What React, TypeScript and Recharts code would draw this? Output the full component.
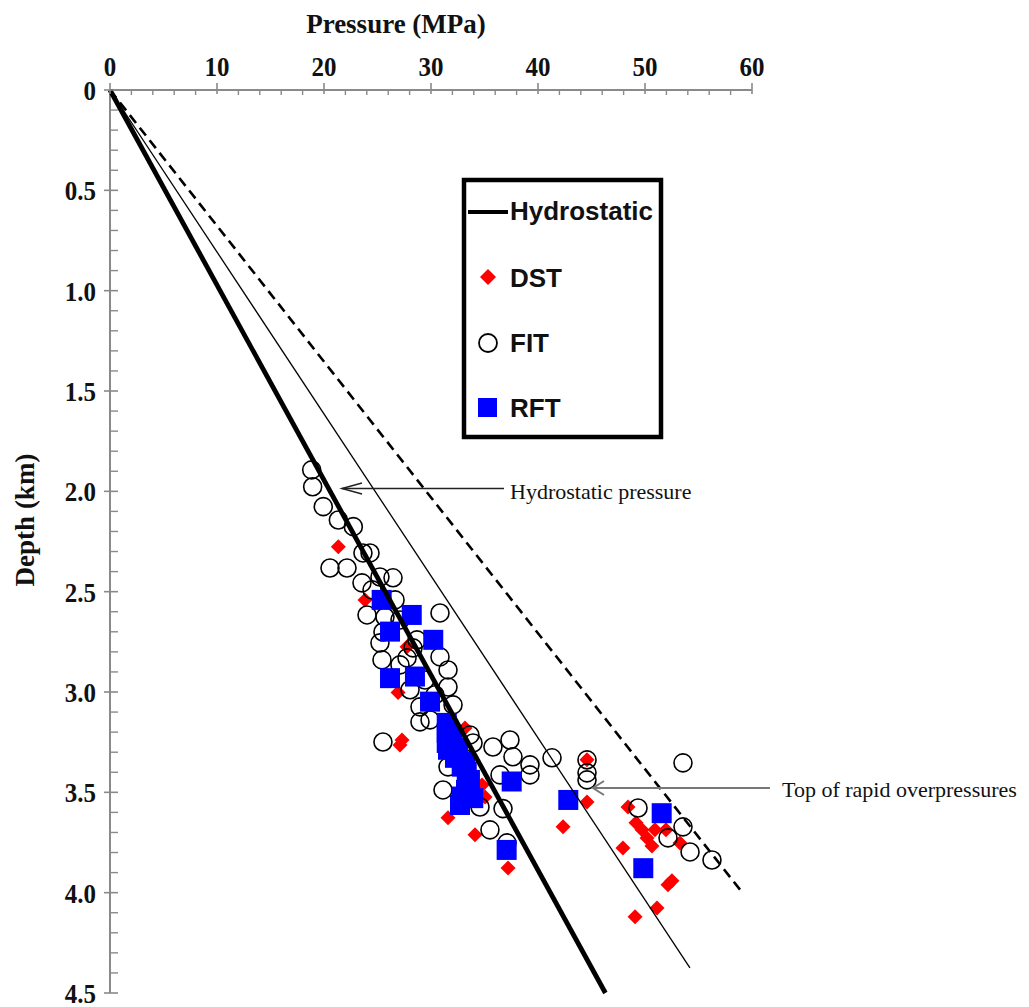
import React from 'react';
import { ScatterChart, Scatter, XAxis, YAxis } from 'recharts';

// ---- Data (pressure MPa, depth km) ----
const dstP = [21.34, 23.83, 27.76, 26.92, 27.10, 27.29, 33.18, 34.77, 35.05, 31.59, 34.11, 37.20, 44.58, 44.58, 42.34, 48.41, 49.16, 49.72, 50.19, 50.65, 50.93, 47.94, 51.96, 53.27, 52.15, 52.52, 51.12, 49.07];
const dstD = [2.276, 2.541, 2.775, 3.003, 3.264, 3.239, 3.179, 3.463, 3.523, 3.627, 3.712, 3.877, 3.338, 3.548, 3.672, 3.573, 3.652, 3.687, 3.727, 3.767, 3.687, 3.777, 3.687, 3.752, 3.961, 3.941, 4.076, 4.120];

const fitP = [18.85, 18.94, 19.93, 21.34, 22.74, 20.56, 22.15, 23.64, 24.30, 23.55, 25.23, 26.45, 24.49, 24.02, 25.70, 26.64, 30.84, 25.51, 25.23, 25.42, 27.76, 28.69, 28.32, 27.10, 30.84, 31.59, 31.59, 27.10, 28.04, 29.44, 30.37, 28.97, 28.97, 29.91, 32.06, 25.51, 33.64, 33.93, 35.79, 37.38, 37.66, 36.45, 39.25, 39.25, 41.31, 44.58, 44.58, 44.58, 31.12, 31.59, 32.99, 34.58, 36.73, 35.51, 37.10, 49.35, 53.55, 53.55, 52.15, 54.21, 56.26];
const fitD = [1.893, 1.977, 2.076, 2.143, 2.176, 2.382, 2.382, 2.307, 2.307, 2.456, 2.427, 2.431, 2.491, 2.616, 2.626, 2.541, 2.606, 2.701, 2.755, 2.840, 2.830, 2.740, 2.780, 2.641, 2.825, 2.890, 2.975, 2.865, 2.989, 2.940, 3.014, 3.074, 3.149, 3.139, 3.064, 3.249, 3.214, 3.254, 3.274, 3.239, 3.323, 3.413, 3.363, 3.413, 3.328, 3.338, 3.403, 3.438, 3.488, 3.373, 3.538, 3.573, 3.581, 3.687, 3.752, 3.578, 3.353, 3.672, 3.727, 3.797, 3.837];

const rftP = [25.39, 28.20, 26.17, 30.21, 26.17, 28.50, 29.91, 31.47, 31.47, 31.47, 31.59, 32.24, 32.87, 33.34, 32.87, 33.95, 32.71, 37.54, 42.83, 51.56, 49.84, 37.07, 31.96, 32.52, 33.18, 33.64, 33.27];
const rftD = [2.541, 2.616, 2.699, 2.740, 2.931, 2.923, 3.048, 3.154, 3.204, 3.254, 3.288, 3.328, 3.372, 3.397, 3.521, 3.529, 3.563, 3.446, 3.538, 3.604, 3.878, 3.787, 3.214, 3.279, 3.348, 3.438, 3.488];

// trend lines (start, end)
const hydroP = [0, 46.3];
const hydroD = [0, 4.5];
const thinP = [0, 54.2];
const thinD = [0, 4.375];
const dashP = [0, 59.1];
const dashD = [0, 4.0];

// ticks
const xMajor = [0, 10, 20, 30, 40, 50, 60];
const xLabels = ['0', '10', '20', '30', '40', '50', '60'];
const xMinor = [2, 4, 6, 8, 12, 14, 16, 18, 22, 24, 26, 28, 32, 34, 36, 38, 42, 44, 46, 48, 52, 54, 56, 58];
const yMajor = [0, 0.5, 1.0, 1.5, 2.0, 2.5, 3.0, 3.5, 4.0, 4.5];
const yLabels = ['0', '0.5', '1.0', '1.5', '2.0', '2.5', '3.0', '3.5', '4.0', '4.5'];
const yMinor = [0.1, 0.2, 0.3, 0.4, 0.6, 0.7, 0.8, 0.9, 1.1, 1.2, 1.3, 1.4, 1.6, 1.7, 1.8, 1.9, 2.1, 2.2, 2.3, 2.4, 2.6, 2.7, 2.8, 2.9, 3.1, 3.2, 3.3, 3.4, 3.6, 3.7, 3.8, 3.9, 4.1, 4.2, 4.3, 4.4];

const zip = (ps: number[], ds: number[]) => ps.map((p, i) => ({ p, d: ds[i] }));
const dstData = zip(dstP, dstD);
const fitData = zip(fitP, fitD);
const rftData = zip(rftP, rftD);
const hydroData = zip(hydroP, hydroD);
const thinData = zip(thinP, thinD);
const dashData = zip(dashP, dashD);

const xTicks = [...xMajor, ...xMinor].sort((a, b) => a - b);
const yTicks = [...yMajor, ...yMinor].sort((a, b) => a - b);

const SERIF = '"Liberation Serif", "Times New Roman", serif';
const SANS = '"Liberation Sans", Arial, sans-serif';
const AXIS = '#8a8a8a';

const XTick = (props: any) => {
  const { x, y, payload } = props;
  const idx = xMajor.indexOf(payload.value);
  if (idx >= 0) {
    return (
      <g>
        <line x1={x} x2={x} y1={y - 7} y2={y + 4} stroke={AXIS} strokeWidth={1.6} />
        <text transform={`translate(${x},${y - 14}) scale(1,1.12)`} x={0} y={0} textAnchor="middle" fontFamily={SERIF} fontWeight="bold" fontSize={25} fill="#111">
          {xLabels[idx]}
        </text>
      </g>
    );
  }
  return <line x1={x} x2={x} y1={y} y2={y + 5} stroke={AXIS} strokeWidth={1.4} />;
};

const YTick = (props: any) => {
  const { x, y, payload } = props;
  const idx = yMajor.findIndex((v) => Math.abs(v - payload.value) < 1e-6);
  if (idx >= 0) {
    return (
      <g>
        <line x1={x - 6} x2={x + 8} y1={y} y2={y} stroke={AXIS} strokeWidth={1.6} />
        <text transform={`translate(${x - 14},${y + 10}) scale(1,1.12)`} x={0} y={0} textAnchor="end" fontFamily={SERIF} fontWeight="bold" fontSize={25} fill="#111">
          {yLabels[idx]}
        </text>
      </g>
    );
  }
  return <line x1={x} x2={x + 8} y1={y} y2={y} stroke={AXIS} strokeWidth={1.4} />;
};

const Diamond = (props: any) => {
  const { cx, cy } = props;
  const s = 7.5;
  return <polygon points={`${cx},${cy - s} ${cx + s},${cy} ${cx},${cy + s} ${cx - s},${cy}`} fill="#ff0000" />;
};
const OpenCircle = (props: any) => {
  const { cx, cy } = props;
  return <circle cx={cx} cy={cy} r={9} fill="none" stroke="#000" strokeWidth={1.6} />;
};
const Square = (props: any) => {
  const { cx, cy } = props;
  return <rect x={cx - 10} y={cy - 10} width={20} height={20} fill="#0000ff" />;
};
const NoShape = () => <g />;

export default function App() {
  return (
    <div style={{ position: 'absolute', left: 0, top: 0, width: 1029, height: 1007, background: '#fff' }}>
      <ScatterChart width={1029} height={1007} margin={{ top: 30, right: 277, bottom: 14, left: 30 }}>
        <XAxis
          type="number"
          dataKey="p"
          orientation="top"
          domain={[0, 60]}
          ticks={xTicks}
          interval={0}
          height={60}
          tickSize={0}
          tickMargin={0}
          tickLine={false}
          axisLine={{ stroke: AXIS, strokeWidth: 2 }}
          tick={<XTick />}
        />
        <YAxis
          type="number"
          dataKey="d"
          domain={[0, 4.5]}
          reversed
          ticks={yTicks}
          interval={0}
          width={80}
          tickSize={0}
          tickMargin={0}
          tickLine={false}
          axisLine={{ stroke: AXIS, strokeWidth: 2 }}
          tick={<YTick />}
        />
        <Scatter data={dstData} shape={<Diamond />} isAnimationActive={false} />
        <Scatter data={fitData} shape={<OpenCircle />} isAnimationActive={false} />
        <Scatter data={rftData} shape={<Square />} isAnimationActive={false} />
        <Scatter data={thinData} shape={<NoShape />} line={{ stroke: '#000', strokeWidth: 1.3 }} isAnimationActive={false} />
        <Scatter data={dashData} shape={<NoShape />} line={{ stroke: '#000', strokeWidth: 2.6, strokeDasharray: '10 6' }} isAnimationActive={false} />
        <Scatter data={hydroData} shape={<NoShape />} line={{ stroke: '#000', strokeWidth: 4.8 }} isAnimationActive={false} />
      </ScatterChart>
      <svg width={1029} height={1007} style={{ position: 'absolute', left: 0, top: 0, pointerEvents: 'none' }}>
        <text x={396} y={33} textAnchor="middle" fontFamily={SERIF} fontWeight="bold" fontSize={27} fill="#111">
          Pressure (MPa)
        </text>
        <text transform="translate(34,520) rotate(-90)" textAnchor="middle" fontFamily={SERIF} fontWeight="bold" fontSize={27} fill="#111">
          Depth (km)
        </text>
        {/* legend */}
        <rect x={464} y={180} width={197} height={257} fill="none" stroke="#000" strokeWidth={4.5} />
        <line x1={468} x2={508} y1={212} y2={212} stroke="#000" strokeWidth={4} />
        <text x={510} y={220} fontFamily={SANS} fontWeight="bold" fontSize={26} fill="#111">Hydrostatic</text>
        <polygon points="488,269 496,277 488,285 480,277" fill="#ff0000" />
        <text x={510} y={287} fontFamily={SANS} fontWeight="bold" fontSize={26} fill="#111">DST</text>
        <circle cx={488} cy={343} r={9} fill="none" stroke="#000" strokeWidth={1.8} />
        <text x={510} y={352} fontFamily={SANS} fontWeight="bold" fontSize={26} fill="#111">FIT</text>
        <rect x={478} y={398} width={19} height={19} fill="#0000ff" />
        <text x={510} y={417} fontFamily={SANS} fontWeight="bold" fontSize={26} fill="#111">RFT</text>
        {/* annotation arrows */}
        <line x1={342} x2={504} y1={488.5} y2={488.5} stroke="#222" strokeWidth={1.5} />
        <polyline points="362,483 342,488.5 362,494" fill="none" stroke="#222" strokeWidth={1.5} />
        <text x={510} y={499} fontFamily={SERIF} fontSize={22} fill="#111">Hydrostatic pressure</text>
        <line x1={593} x2={770} y1={788} y2={788} stroke="#777" strokeWidth={2} />
        <polyline points="604,781 593,788 604,795" fill="none" stroke="#777" strokeWidth={2} />
        <text x={782} y={797} fontFamily={SERIF} fontSize={22} fill="#111">Top of rapid overpressures</text>
      </svg>
    </div>
  );
}
